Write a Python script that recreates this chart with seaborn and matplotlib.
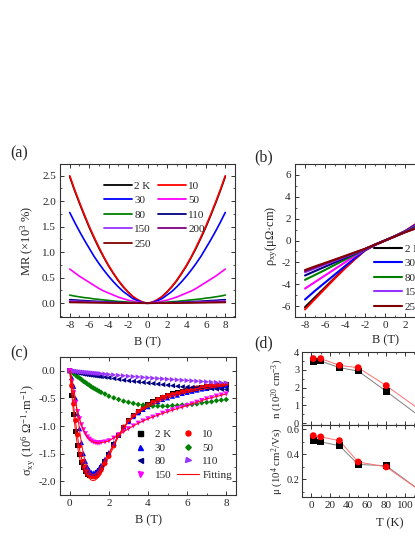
"""Four-panel magnetotransport figure: MR, Hall resistivity, Hall conductivity
with fits, and carrier density / mobility vs temperature. Saves out.png."""
import pandas as pd
import matplotlib
matplotlib.use("Agg")
import matplotlib.pyplot as plt
from matplotlib.lines import Line2D
from matplotlib.ticker import MultipleLocator
import seaborn as sns

W, H = 415, 537

TEMPS = ["2 K", "10", "30", "50", "80", "110", "150", "200", "250"]
COLORS = ["#000000", "#ff0000", "#0000ff", "#ff00ff", "#008000",
          "#000080", "#9933ff", "#800080", "#800000"]
# panel (c) uses its own colour per temperature
SIG_TEMPS = ["2 K", "10", "30", "50", "80", "110", "150"]
SIG_COLORS = ["#000000", "#ff0000", "#0000ff", "#008000", "#000080", "#9933ff", "#ff00ff"]

# (a) MR (x10^3 %), read at |B| = 0 ... 8 T, curves are even in B
B_HALF = [0, 0.5, 1, 1.5, 2, 2.5, 3, 3.5, 4, 4.5, 5, 5.5, 6, 6.5, 7, 7.5, 8]
MR_2K = [0, 0.02, 0.06, 0.13, 0.22, 0.32, 0.44, 0.58, 0.73, 0.90, 1.08, 1.28, 1.49, 1.72, 1.96, 2.21, 2.48]
MR_10 = [0, 0.02, 0.07, 0.13, 0.22, 0.33, 0.45, 0.59, 0.74, 0.91, 1.10, 1.30, 1.51, 1.74, 1.98, 2.23, 2.50]
MR_30 = [0, 0.01, 0.05, 0.09, 0.16, 0.23, 0.32, 0.42, 0.53, 0.65, 0.78, 0.92, 1.08, 1.24, 1.41, 1.59, 1.78]
MR_50 = [0, 0.01, 0.02, 0.04, 0.06, 0.09, 0.12, 0.16, 0.20, 0.24, 0.29, 0.35, 0.41, 0.47, 0.53, 0.60, 0.67]
MR_80 = [0, 0.005, 0.01, 0.015, 0.02, 0.03, 0.035, 0.045, 0.055, 0.065, 0.075, 0.085, 0.10, 0.11, 0.125, 0.14, 0.16]
MR_110 = [0, 0.002, 0.004, 0.007, 0.01, 0.013, 0.017, 0.021, 0.025, 0.03, 0.035, 0.04, 0.045, 0.051, 0.057, 0.064, 0.07]
MR_150 = [0, 0.001, 0.003, 0.004, 0.006, 0.008, 0.011, 0.013, 0.016, 0.019, 0.022, 0.026, 0.029, 0.033, 0.037, 0.041, 0.045]
MR_200 = [0, 0.001, 0.002, 0.003, 0.004, 0.006, 0.007, 0.009, 0.011, 0.013, 0.015, 0.017, 0.019, 0.022, 0.025, 0.027, 0.03]
MR_250 = [0, 0.0005, 0.001, 0.0015, 0.002, 0.003, 0.004, 0.005, 0.006, 0.007, 0.008, 0.009, 0.01, 0.011, 0.012, 0.014, 0.015]

# (b) rho_xy (uOhm cm) at B = -8 ... 8 T
B_HALL = [-8, -7, -6, -5, -4, -3, -2, -1, 0, 1, 2, 3, 4, 5, 6, 7, 8]
RHO_2K = [-6.1, -5.2, -4.3, -3.4, -2.5, -1.68, -0.9, -0.4, 0.0, 0.4, 0.85, 1.43, 2.25, 3.15, 4.1, 5.05, 6.0]
RHO_10 = [-6.3, -5.35, -4.4, -3.45, -2.55, -1.7, -0.9, -0.4, 0.0, 0.4, 0.85, 1.45, 2.3, 3.2, 4.2, 5.2, 6.2]
RHO_30 = [-5.4, -4.6, -3.85, -3.1, -2.35, -1.6, -0.88, -0.4, 0.0, 0.4, 0.84, 1.38, 2.1, 2.85, 3.7, 4.55, 5.35]
RHO_50 = [-4.4, -3.8, -3.2, -2.6, -2.0, -1.4, -0.83, -0.39, 0.0, 0.39, 0.82, 1.3, 1.85, 2.45, 3.1, 3.75, 4.4]
RHO_80 = [-3.6, -3.15, -2.7, -2.22, -1.75, -1.28, -0.8, -0.38, 0.0, 0.38, 0.8, 1.25, 1.7, 2.17, 2.65, 3.12, 3.6]
RHO_110 = [-3.2, -2.8, -2.4, -2.0, -1.6, -1.2, -0.79, -0.38, 0.0, 0.38, 0.78, 1.18, 1.58, 1.98, 2.38, 2.78, 3.2]
RHO_150 = [-2.9, -2.55, -2.2, -1.85, -1.5, -1.14, -0.78, -0.38, 0.0, 0.38, 0.77, 1.13, 1.48, 1.83, 2.18, 2.53, 2.9]
RHO_200 = [-2.8, -2.46, -2.12, -1.78, -1.45, -1.1, -0.77, -0.38, 0.0, 0.38, 0.76, 1.1, 1.44, 1.78, 2.12, 2.46, 2.8]
RHO_250 = [-2.7, -2.37, -2.05, -1.73, -1.41, -1.08, -0.76, -0.38, 0.0, 0.38, 0.75, 1.08, 1.4, 1.72, 2.04, 2.37, 2.7]

# (c) sigma_xy (10^6 S/m), measured points
B_SIG = [0, 0.1, 0.2, 0.3, 0.4, 0.5, 0.6, 0.7, 0.8, 0.9, 1.0, 1.1, 1.2, 1.3, 1.4, 1.5, 1.6, 1.8,
         2.0, 2.25, 2.5, 2.75, 3.0, 3.25, 3.5, 3.75, 4.0, 4.25, 4.5, 4.75, 5.0, 5.25, 5.5, 5.75,
         6.0, 6.25, 6.5, 6.75, 7.0, 7.25, 7.5, 7.75, 8.0]
SIG_2K = [0, -0.45, -0.8, -1.1, -1.35, -1.52, -1.66, -1.76, -1.83, -1.87, -1.89, -1.9, -1.9, -1.88,
          -1.85, -1.81, -1.76, -1.64, -1.52, -1.34, -1.17, -1.02, -0.9, -0.81, -0.73, -0.67, -0.61,
          -0.56, -0.52, -0.48, -0.45, -0.42, -0.4, -0.38, -0.36, -0.34, -0.32, -0.3, -0.29, -0.28,
          -0.27, -0.26, -0.25]
SIG_10 = [0, -0.27, -0.6, -0.9, -1.16, -1.36, -1.52, -1.64, -1.74, -1.81, -1.86, -1.9, -1.92, -1.92,
          -1.9, -1.86, -1.8, -1.68, -1.55, -1.36, -1.17, -1.02, -0.91, -0.82, -0.74, -0.68, -0.62,
          -0.57, -0.52, -0.48, -0.45, -0.43, -0.41, -0.38, -0.36, -0.33, -0.31, -0.3, -0.28, -0.27,
          -0.26, -0.25, -0.24]
SIG_30 = [0, -0.12, -0.28, -0.5, -0.78, -1.05, -1.3, -1.5, -1.64, -1.74, -1.8, -1.84, -1.85, -1.84,
          -1.81, -1.77, -1.71, -1.6, -1.48, -1.31, -1.16, -1.03, -0.92, -0.83, -0.76, -0.7, -0.65,
          -0.6, -0.56, -0.52, -0.49, -0.46, -0.44, -0.41, -0.39, -0.37, -0.35, -0.33, -0.32, -0.3,
          -0.29, -0.28, -0.27]
SIG_50 = [0, -0.02, -0.05, -0.08, -0.11, -0.13, -0.16, -0.19, -0.21, -0.24, -0.26, -0.29, -0.31,
          -0.33, -0.35, -0.37, -0.39, -0.42, -0.46, -0.49, -0.52, -0.55, -0.57, -0.59, -0.61, -0.62,
          -0.63, -0.64, -0.64, -0.64, -0.64, -0.63, -0.63, -0.62, -0.62, -0.61, -0.6, -0.58, -0.57,
          -0.56, -0.54, -0.53, -0.52]
SIG_80 = [0, -0.01, -0.02, -0.03, -0.035, -0.045, -0.05, -0.06, -0.065, -0.07, -0.075, -0.08, -0.085,
          -0.09, -0.095, -0.1, -0.105, -0.115, -0.125, -0.14, -0.155, -0.17, -0.18, -0.19, -0.2, -0.21,
          -0.22, -0.23, -0.24, -0.25, -0.26, -0.27, -0.28, -0.29, -0.295, -0.3, -0.31, -0.315, -0.32,
          -0.325, -0.33, -0.335, -0.34]
SIG_110 = [0, -0.003, -0.006, -0.01, -0.013, -0.016, -0.02, -0.023, -0.026, -0.03, -0.033, -0.036,
           -0.04, -0.043, -0.046, -0.05, -0.053, -0.06, -0.066, -0.074, -0.082, -0.09, -0.098, -0.105,
           -0.112, -0.119, -0.126, -0.133, -0.14, -0.146, -0.152, -0.158, -0.164, -0.17, -0.176,
           -0.182, -0.188, -0.194, -0.2, -0.205, -0.21, -0.215, -0.22]
SIG_150 = [0, -0.2, -0.4, -0.58, -0.74, -0.87, -0.98, -1.07, -1.14, -1.2, -1.24, -1.27, -1.29, -1.3,
           -1.31, -1.31, -1.3, -1.29, -1.27, -1.22, -1.16, -1.1, -1.05, -1.0, -0.95, -0.91, -0.87,
           -0.84, -0.81, -0.77, -0.74, -0.71, -0.68, -0.66, -0.63, -0.6, -0.57, -0.54, -0.51, -0.49,
           -0.46, -0.44, -0.42]

# (c) two-band fitting curves
B_FIT = [0, 0.1, 0.2, 0.3, 0.4, 0.5, 0.6, 0.7, 0.8, 0.9, 1.0, 1.1, 1.2, 1.3, 1.4, 1.5, 1.6, 1.8, 2.0,
         2.5, 3.0, 3.5, 4.0, 5.0, 6.0, 7.0, 8.0]
FIT_2K = [0, -0.42, -0.8, -1.12, -1.38, -1.57, -1.71, -1.81, -1.88, -1.92, -1.94, -1.95, -1.94, -1.92,
          -1.88, -1.84, -1.78, -1.65, -1.51, -1.16, -0.9, -0.73, -0.61, -0.45, -0.36, -0.29, -0.25]
FIT_10 = [0, -0.3, -0.63, -0.94, -1.2, -1.42, -1.59, -1.73, -1.83, -1.9, -1.95, -1.98, -1.99, -1.98,
          -1.95, -1.91, -1.85, -1.71, -1.56, -1.18, -0.91, -0.74, -0.62, -0.45, -0.36, -0.28, -0.24]
FIT_30 = [0, -0.14, -0.31, -0.54, -0.81, -1.08, -1.32, -1.52, -1.66, -1.76, -1.83, -1.87, -1.88, -1.87,
          -1.84, -1.79, -1.73, -1.61, -1.49, -1.16, -0.92, -0.76, -0.65, -0.49, -0.39, -0.32, -0.27]
FIT_150 = [0, -0.2, -0.4, -0.58, -0.74, -0.87, -0.98, -1.07, -1.14, -1.2, -1.24, -1.27, -1.29, -1.3,
           -1.31, -1.31, -1.3, -1.29, -1.27, -1.16, -1.05, -0.95, -0.87, -0.74, -0.63, -0.51, -0.42]

# (d) carrier density and mobility vs temperature, two carrier types
T_D = [2, 10, 30, 50, 80, 120]
N_BLACK = [3.45, 3.49, 3.12, 2.93, 1.79, 0.22]
N_RED = [3.63, 3.63, 3.25, 3.12, 2.11, 0.6]
MU_BLACK = [0.51, 0.50, 0.47, 0.32, 0.31, 0.09]
MU_RED = [0.55, 0.54, 0.51, 0.34, 0.30, 0.09]

SIG_MARKERS = {"2 K": "s", "10": "o", "30": "^", "50": "D", "80": "<", "110": ">", "150": "v"}
SIG_SIZES = {"2 K": 13, "10": 14, "30": 14, "50": 8, "80": 14, "110": 14, "150": 14}

sns.set_style("ticks")
plt.rcParams["font.family"] = ["Liberation Serif", "DejaVu Serif"]
plt.rcParams["mathtext.fontset"] = "custom"
plt.rcParams["mathtext.rm"] = "Liberation Serif"
plt.rcParams["mathtext.it"] = "Liberation Serif:italic"
plt.rcParams["axes.unicode_minus"] = False

PAL = dict(zip(TEMPS, COLORS))
SIG_PAL = dict(zip(SIG_TEMPS, SIG_COLORS))


def rect(l, t, r, b):
    return [l / W, 1 - b / H, (r - l) / W, (b - t) / H]


def style_ax(ax, xmaj, xmin, ymaj, ymin, labelsize=8, pad=3):
    ax.xaxis.set_major_locator(MultipleLocator(xmaj))
    ax.xaxis.set_minor_locator(MultipleLocator(xmin))
    ax.yaxis.set_major_locator(MultipleLocator(ymaj))
    ax.yaxis.set_minor_locator(MultipleLocator(ymin))
    ax.tick_params(which="both", direction="in", top=True, right=True, labelsize=labelsize,
                   pad=pad, color="#333333")
    ax.tick_params(which="major", length=3, width=0.7)
    ax.tick_params(which="minor", length=1.6, width=0.6)
    for s in ax.spines.values():
        s.set_linewidth(0.8)
        s.set_color("#333333")
    ax.set_xlabel("")
    ax.set_ylabel("")


def set_labels(ax, xl, xy, yl, yx, yy=0.5, size=9):
    if xl:
        ax.set_xlabel(xl, fontsize=9, va="center")
        ax.xaxis.set_label_coords(0.5, xy)
    ax.set_ylabel(yl, fontsize=size, va="center")
    ax.yaxis.set_label_coords(yx, yy)


def long_df(x, series, xname, yname):
    rows = []
    for t, vals in series.items():
        rows.append(pd.DataFrame({xname: x, yname: vals, "T": t}))
    return pd.concat(rows, ignore_index=True)


def line_handles(order, lw):
    return [Line2D([], [], color=PAL[t], lw=lw, label=t) for t in order]


fig = plt.figure(figsize=(W / 100, H / 100), dpi=100)
ax_a = fig.add_axes(rect(60, 164, 235, 317))
ax_b = fig.add_axes(rect(295, 164, 475, 317))
ax_c = fig.add_axes(rect(60, 357, 236, 495))
ax_n = fig.add_axes(rect(302, 352, 478, 425))
ax_m = fig.add_axes(rect(302, 425, 478, 497))

LEG_ORDER = ["2 K", "30", "80", "150", "250", "10", "50", "110", "200"]
LEG_KW = dict(ncol=2, loc="upper left", frameon=False, fontsize=8, handlelength=2.5,
              handletextpad=0.25, columnspacing=0.6, labelspacing=0.42, borderpad=0,
              borderaxespad=0)

# 1. MR vs B
b_full = [-b for b in B_HALF[::-1]] + B_HALF[1:]
mr = {t: v[::-1] + v[1:] for t, v in zip(TEMPS, [MR_2K, MR_10, MR_30, MR_50, MR_80, MR_110,
                                                   MR_150, MR_200, MR_250])}
df_a = long_df(b_full, mr, "B", "MR")
sns.lineplot(data=df_a, x="B", y="MR", hue="T", hue_order=TEMPS, palette=PAL, estimator=None,
             sort=False, lw=1.2, legend=False, ax=ax_a)
ax_a.set_xlim(-9, 9)
ax_a.set_ylim(-0.27, 2.73)
style_ax(ax_a, 2, 1, 0.5, 0.25)
set_labels(ax_a, "B (T)", -0.163, "MR (×10$^3$ %)", -0.183)
ax_a.legend(handles=line_handles(LEG_ORDER, 1.3), bbox_to_anchor=(0.251, 0.889), **LEG_KW)

# 2. Hall resistivity
rho = dict(zip(TEMPS, [RHO_2K, RHO_10, RHO_30, RHO_50, RHO_80, RHO_110, RHO_150, RHO_200, RHO_250]))
df_b = long_df(B_HALL, rho, "B", "rho")
sns.lineplot(data=df_b, x="B", y="rho", hue="T", hue_order=TEMPS, palette=PAL, estimator=None,
             sort=False, lw=1.5, legend=False, ax=ax_b)
ax_b.set_xlim(-9, 9)
ax_b.set_ylim(-7, 7)
style_ax(ax_b, 2, 1, 2, 1)
set_labels(ax_b, "B (T)", -0.15, r"ρ$_{\rm xy}$(μΩ·cm)", -0.128, 0.53)
ax_b.legend(handles=line_handles(LEG_ORDER, 1.5), bbox_to_anchor=(0.439, 0.477), **LEG_KW)

# 3. Hall conductivity with fits
sig = dict(zip(SIG_TEMPS, [SIG_2K, SIG_10, SIG_30, SIG_50, SIG_80, SIG_110, SIG_150]))
df_c = long_df(B_SIG, sig, "B", "sigma")
sns.scatterplot(data=df_c, x="B", y="sigma", hue="T", style="T", size="T", palette=SIG_PAL,
                markers=SIG_MARKERS, sizes=SIG_SIZES, linewidth=0, legend=False, ax=ax_c)
fits = {"2 K": FIT_2K, "10": FIT_10, "30": FIT_30, "150": FIT_150}
df_f = long_df(B_FIT, fits, "B", "sigma")
sns.lineplot(data=df_f, x="B", y="sigma", units="T", estimator=None, sort=False, color="#ff0000",
             lw=0.7, legend=False, ax=ax_c)
ax_c.set_xlim(-0.5, 8.5)
ax_c.set_ylim(-2.25, 0.25)
style_ax(ax_c, 2, 1, 0.5, 0.25)
set_labels(ax_c, "B (T)", -0.186, r"σ$_{\rm xy}$ (10$^6$ Ω$^{-1}$·m$^{-1}$)", -0.178, 0.47)
c_handles = [Line2D([], [], ls="none", marker=SIG_MARKERS[t], color=SIG_PAL[t],
                    ms=2.8 if t == "50" else 3.6, label=t)
             for t in ["2 K", "30", "80", "150", "10", "50", "110"]]
c_handles.append(Line2D([], [], color="#ff0000", lw=0.8, label="Fitting"))
ax_c.legend(handles=c_handles, ncol=2, loc="upper left", bbox_to_anchor=(0.392, 0.478),
            frameon=False, fontsize=8, handlelength=2.0, handletextpad=0.3, columnspacing=0.5,
            labelspacing=0.36, borderpad=0, borderaxespad=0)

# 4. n and mu vs T
df_d = pd.DataFrame({"T": T_D * 2, "n": N_BLACK + N_RED, "mu": MU_BLACK + MU_RED,
                     "carrier": ["b"] * len(T_D) + ["r"] * len(T_D)})
line_pal = {"b": "#808080", "r": "#ff7070"}
mark_pal = {"b": "#000000", "r": "#ff0000"}
for ax, col in [(ax_n, "n"), (ax_m, "mu")]:
    sns.lineplot(data=df_d, x="T", y=col, hue="carrier", palette=line_pal, estimator=None,
                 lw=0.7, legend=False, ax=ax)
    sns.scatterplot(data=df_d, x="T", y=col, hue="carrier", style="carrier", palette=mark_pal,
                    markers={"b": "s", "r": "o"}, s=24, linewidth=0, legend=False, ax=ax, zorder=3)
    ax.set_xlim(-10, 178)
ax_n.set_ylim(-0.1, 4)
ax_m.set_ylim(0.06, 0.635)
style_ax(ax_n, 20, 10, 1, 0.5, labelsize=7.5, pad=2)
style_ax(ax_m, 20, 10, 0.2, 0.1, labelsize=7.5, pad=2)
ax_m.tick_params(axis="x", pad=3, labelsize=8)
ax_n.tick_params(labelbottom=False)
set_labels(ax_n, None, 0, "n (10$^{20}$ cm$^{-3}$)", -0.138, size=7.8)
set_labels(ax_m, "T (K)", -0.36, "μ (10$^4$ cm$^2$/Vs)", -0.138, size=7.8)

for lab, x, y in [("(a)", 19, 153), ("(b)", 264, 157), ("(c)", 19, 353), ("(d)", 264, 343)]:
    fig.text(x / W, 1 - y / H, lab, ha="center", va="center", fontsize=11.5)

fig.savefig("out.png", dpi=100)
